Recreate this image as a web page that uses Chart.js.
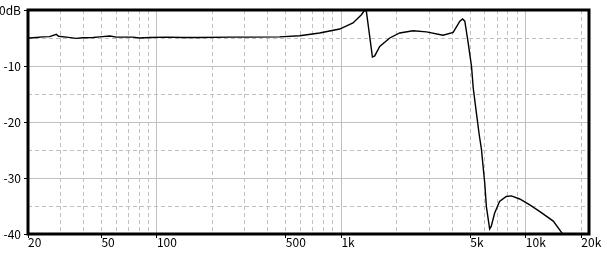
<!DOCTYPE html>
<html>
<head>
<meta charset="utf-8">
<script src="https://cdn.jsdelivr.net/npm/chart.js@4"></script>
<style>
  body { margin: 0; background: #fff; }
  canvas { display: block; }
</style>
</head>
<body>
<canvas id="response" width="607" height="258"></canvas>
<script>
        const freqs = [20, 20.4, 22.2, 24.1, 26.2, 28.5, 29.3, 32.3, 36.5, 39.6, 45, 49, 55.6, 60.3, 74, 80.3, 91.7,
            113, 138, 171, 250, 318, 463, 595, 762, 979, 1156, 1284, 1338, 1366, 1424, 1473, 1516, 1614, 1829,
            2071, 2447, 2893, 3556, 4036, 4390, 4536, 4668, 4871, 5077, 5185, 5400, 5600, 5747, 5863, 5986,
            6110, 6365, 6496, 6770, 7200, 7832, 8347, 9263, 10503, 11920, 14083, 15608, 16500];
        const levels = [-5.0, -5.0, -4.9, -4.8, -4.75, -4.35, -4.7, -4.85, -5.07, -4.95, -4.9, -4.8, -4.65, -4.85, -4.85, -5.0, -4.9,
            -4.85, -4.9, -4.9, -4.85, -4.85, -4.8, -4.6, -4.1, -3.4, -2.3, -0.84, 0, -0.25, -4.7, -8.4, -8.2, -6.5, -5.0,
            -4.1, -3.7, -3.9, -4.5, -4.0, -2.0, -1.6, -2.0, -5.9, -10.1, -13.9, -18.5, -22.5, -24.9, -27.9, -30.9,
            -35.1, -39.1, -38.6, -36.3, -34.2, -33.3, -33.2, -33.75, -34.8, -36.0, -37.7, -39.7, -40.7];

        const gridFreqs = [20, 30, 40, 50, 60, 70, 80, 90, 100, 200, 300, 400, 500, 600, 700, 800, 900,
            1000, 2000, 3000, 4000, 5000, 6000, 7000, 8000, 9000, 10000, 20000];
        const labeledFreqs = [20, 50, 100, 500, 1000, 5000, 10000, 20000];
        const freqLabels = ['20', '50', '100', '500', '1k', '5k', '10k', '20k'];
        const dbMin = -40, dbMax = 0, dbStep = 5;

        const gridGray = '#c0c0c0';
        const labelFont = { family: "'Liberation Sans Narrow', 'Noto Sans CJK JP', sans-serif", size: 12, lineHeight: 1 };

        const isDecade = v => Math.abs(Math.log10(v) - Math.round(Math.log10(v))) < 1e-6;

        const frame = {
            id: 'frame',
            afterDraw(chart) {
                const { ctx, chartArea: a } = chart;
                ctx.save();
                ctx.strokeStyle = '#000';
                ctx.lineWidth = 3;
                ctx.strokeRect(a.left, a.top, a.right - a.left, a.bottom - a.top);
                ctx.restore();
            }
        };

        const ctx = document.getElementById('response').getContext('2d');
        const chart = new Chart(ctx, {
            type: 'line',
            data: {
                datasets: [{
                    data: freqs.map((f, i) => ({ x: f, y: levels[i] })),
                    borderColor: '#000',
                    borderWidth: 1.4,
                    pointRadius: 0,
                    tension: 0,
                    fill: false
                }]
            },
            options: {
                responsive: false,
                animation: false,
                devicePixelRatio: 1,
                layout: { padding: { top: 10, right: 18, left: 0, bottom: 0 } },
                plugins: { legend: { display: false }, tooltip: { enabled: false } },
                scales: {
                    x: {
                        type: 'logarithmic',
                        min: 20,
                        max: 22000,
                        afterBuildTicks: scale => { scale.ticks = gridFreqs.map(v => ({ value: v })); },
                        afterFit: scale => { scale.height = 24; },
                        ticks: {
                            autoSkip: false,
                            maxRotation: 0,
                            align: 'start',
                            padding: -2,
                            color: '#000',
                            font: labelFont,
                            callback: v => {
                                const i = labeledFreqs.indexOf(v);
                                return i >= 0 ? freqLabels[i] : '';
                            }
                        },
                        grid: {
                            color: gridGray,
                            lineWidth: 1,
                            tickLength: 4,
                            tickColor: c => labeledFreqs.includes(c.tick && c.tick.value) ? '#000' : 'rgba(0,0,0,0)'
                        },
                        border: {
                            display: false,
                            dash: c => (c.tick && isDecade(c.tick.value)) ? [] : [4, 3]
                        }
                    },
                    y: {
                        min: dbMin,
                        max: dbMax,
                        afterFit: scale => { scale.width = 28; },
                        ticks: {
                            stepSize: dbStep,
                            padding: 3,
                            color: '#000',
                            font: labelFont,
                            callback: v => v % 10 === 0 ? (v === 0 ? '0dB' : String(v)) : ''
                        },
                        grid: {
                            color: gridGray,
                            lineWidth: 1,
                            tickLength: 4,
                            tickColor: c => (c.tick && c.tick.value % 10 === 0) ? '#000' : 'rgba(0,0,0,0)'
                        },
                        border: {
                            display: false,
                            dash: c => (c.tick && c.tick.value % 10 === 0) ? [] : [4, 3]
                        }
                    }
                }
            },
            plugins: [frame]
        });
</script>
</body>
</html>
